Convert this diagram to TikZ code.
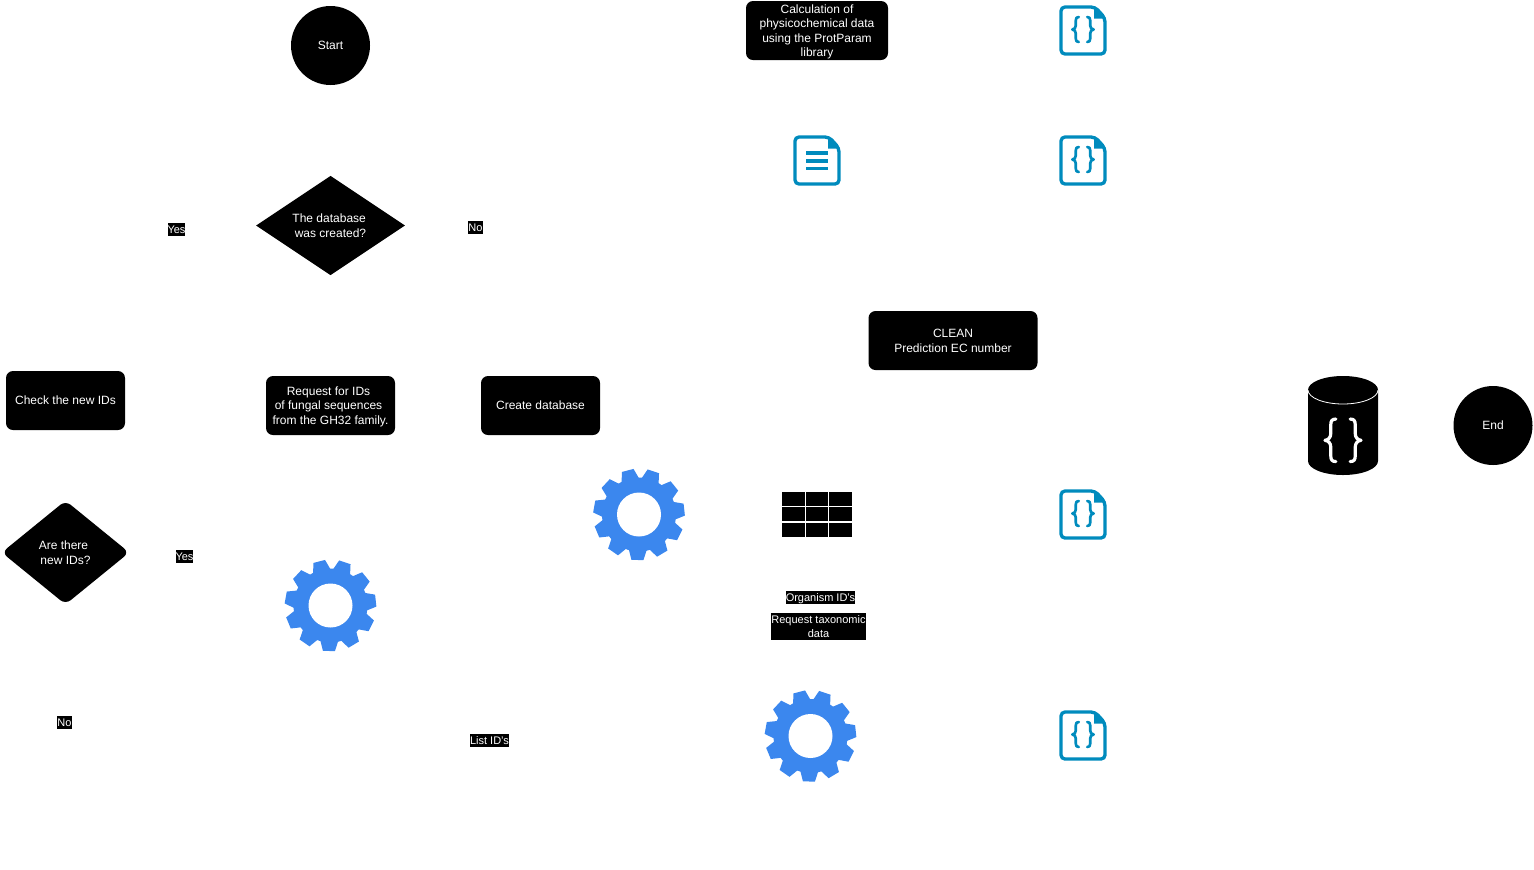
\documentclass[tikz,border=0pt]{standalone}
\usepackage{fontspec}
\setmainfont{Liberation Sans}
\usetikzlibrary{shapes.geometric}
\definecolor{gearblue}{HTML}{3B87EE}
\definecolor{iconblue}{HTML}{008BBD}

\tikzset{
	startend/.style={circle,fill=black,text=white,inner sep=0pt,minimum size=59.25pt,font=\fontsize{9}{10.9}\selectfont},
	flowbox/.style={rectangle,rounded corners=5.25pt,fill=black,text=white,inner sep=0pt,align=center,font=\fontsize{9}{10.9}\selectfont},
	decision/.style={diamond,fill=black,text=white,inner sep=0pt,align=center,font=\fontsize{9}{10.9}\selectfont},
	tagbase/.style={fill=black,text=white,inner xsep=0pt,inner ysep=0pt,align=center,font=\fontsize{8.25}{10.2}\selectfont},
	edgetag/.style={tagbase,text height=7.6pt,text depth=2.15pt},
	tablecell/.style={fill=black,inner sep=0pt,minimum width=17.2pt,minimum height=10.6pt},
	pics/bracepair/.style={code={
		\foreach \s in {1,-1} {
			\draw[xscale=\s,line cap=round,line join=round,pic actions] (-4.2,-13.5) .. controls (-6.5,-13.5) and (-7.2,-12.5) .. (-7.2,-10) -- (-7.2,-5) .. controls (-7.2,-2.8) and (-8.5,-1.2) .. (-10.6,-1) .. controls (-8.5,-0.8) and (-7.2,0.8) .. (-7.2,3) -- (-7.2,8) .. controls (-7.2,10.5) and (-6.5,11.5) .. (-4.2,11.5);
		}
	}},
	pics/docpage/.style={code={
		\draw[iconblue,line width=2.5pt,rounded corners=3pt] (-22,-23.5) -- (12,-23.5) -- (22,-12.5) -- (22,23.5) -- (-22,23.5) -- cycle;
		\fill[iconblue] (11,-24) -- (22.5,-12) -- (11,-12) -- cycle;
	}},
	pics/gearwheel/.style={code={
		\fill[gearblue] (0,0) circle (37);
		\foreach \t in {0,...,10} {
			\fill[gearblue,rotate=-92-32.727*\t] (35,-9) -- (45.5,-6) -- (45.5,6) -- (35,9) -- cycle;
		}
		\fill[white] (0,0) circle (22);
	}}
}

\begin{document}
\begin{tikzpicture}[x=0.75pt,y=-0.75pt]
	\useasboundingbox (0,0) rectangle (1534,869);

	\node[startend] (start) at (330.5,45.5) {Start};
	\node[startend] (end) at (1493,425.5) {End};

	\node[decision,minimum width=111.75pt,minimum height=74.25pt] (created) at (330.5,225.5) {The database\hspace*{2pt}\\was created?};
	\node[decision,rounded corners=5pt,minimum width=95.75pt,minimum height=78pt] (newids) at (65.5,552.5) {Are there\hspace*{3pt}\\new IDs?};

	\node[flowbox,minimum width=89.25pt,minimum height=44.25pt] (check) at (65.5,400.5) {Check the new IDs};
	\node[flowbox,minimum width=96.75pt,minimum height=44.25pt] (request) at (330.5,405.5) {\rule{0pt}{8.1pt}Request for IDs\hspace*{3pt}\\\hspace*{-3pt}of fungal sequences\\from the GH32 family.};
	\node[flowbox,minimum width=89.25pt,minimum height=44.25pt] (createdb) at (540.5,405.5) {Create database};
	\node[flowbox,minimum width=106.5pt,minimum height=44.25pt] (protparam) at (817,30.5) {\rule{0pt}{8.6pt}Calculation of\\physicochemical data\\using the ProtParam\\library};
	\node[flowbox,minimum width=126.75pt,minimum height=44.25pt] (clean) at (953,340.5) {\rule{0pt}{6.9pt}CLEAN\\Prediction EC number};

	% edge labels
	\node[edgetag] (yes1) at (176.5,229.5) {Yes};
	\node[edgetag] (no1) at (475.5,227.5) {No};
	\node[edgetag] (yes2) at (184.5,556.5) {Yes};
	\node[edgetag] (no2) at (64.5,722.5) {No};
	\node[edgetag] (listids) at (489.5,740.5) {List ID's};
	\node[edgetag] (orgids) at (820.5,597.5) {Organism ID's};
	\node[tagbase,minimum width=71.25pt,minimum height=20.25pt] (taxonomy) at (818.5,626.5) {Request taxonomic\\data};

	% gears
	\pic (gear1) at (639,514.5) {gearwheel};
	\pic (gear2) at (330.5,605.5) {gearwheel};
	\pic (gear3) at (810.5,736) {gearwheel};

	% json files
	\foreach \y in {30.5,160.5,514.5,735.5} {
			\pic at (1083,\y) {docpage};
			\pic[draw=iconblue,line width=2pt] at (1083,\y) {bracepair};
		}

	% text file
	\pic (textfile) at (817,160.5) {docpage};
	\foreach \y in {-7.5,0.5,8} {
			\fill[iconblue] (806,160.5+\y-1.75) rectangle (828,160.5+\y+1.75);
		}

	% table
	\foreach \x [count=\i] in {793.7,817,840.4} {
			\foreach \y [count=\j] in {499,514.3,530} {
					\node[tablecell] (cell\i_\j) at (\x,\y) {};
				}
		}

	% json store
	\fill[black] (1308,390) -- (1308,461) arc[start angle=180,end angle=0,x radius=35,y radius=14] -- (1378,390) -- cycle;
	\fill[black] (1343,390) ellipse (35 and 14);
	\draw[white,line width=0.6pt] (1308,390) arc[start angle=180,end angle=0,x radius=35,y radius=14];
	\pic[draw=white,line width=2.4pt,scale=1.7] at (1343,442) {bracepair};
\end{tikzpicture}
\end{document}
